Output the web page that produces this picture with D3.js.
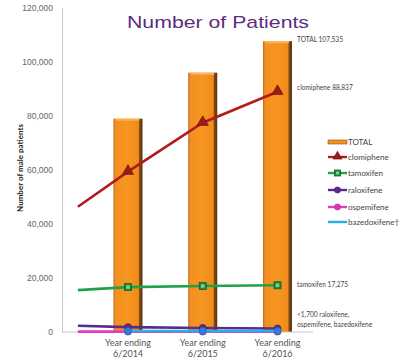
<!DOCTYPE html>
<html><head><meta charset="utf-8">
<script src="https://cdn.jsdelivr.net/npm/d3@7"></script>
<style>
body{margin:0;background:#fff;}
svg{display:block;}
text{font-family:Lato,"Liberation Sans",sans-serif;}
</style></head>
<body><svg id="c" width="401" height="362"></svg>
<script>
// ---- data ----
const categories = ["Year ending|6/2014", "Year ending|6/2015", "Year ending|6/2016"];
const totalValues = [78900, 95900, 107535];
// each line series: value at an unlabeled earlier start point, then the three years
const lineStartIndex = -0.67;
const clomiphene = [46300, 59300, 77400, 88837];
const tamoxifen = [15500, 16600, 17000, 17275];
const raloxifene = [2300, 1800, 1500, 1300];
const ospemifene = [150, 150, 150, 150];
const bazedoxifene = [null, 350, 350, 350];
const yTicks = [0, 20000, 40000, 60000, 80000, 100000, 120000];
const annotations = [
  {text:["TOTAL 107,535"], value:107535},
  {text:["clomiphene 88,837"], value:88837},
  {text:["tamoxifen 17,275"], value:17275},
  {text:["<1,700 raloxifene,", "ospemifene, bazedoxifene"], value:1700}
];
const legendItems = ["TOTAL","clomiphene","tamoxifen","raloxifene","ospemifene","bazedoxifene†"];

// ---- layout ----
const svg = d3.select("#c");
const x = d3.scaleLinear().domain([-0.883, 2.475]).range([62, 313]);
const y = d3.scaleLinear().domain([0, 120000]).range([332, 7.5]);
const barW = 29;

const defs = svg.append("defs");
const g = defs.append("linearGradient").attr("id","barGrad").attr("x1","0").attr("x2","1").attr("y1","0").attr("y2","0");
[[0,"#b8661a"],[0.07,"#f48f22"],[0.5,"#f6961f"],[0.86,"#f08b1c"],[0.9,"#7a4a16"],[1,"#5a3410"]]
  .forEach(([o,c])=>g.append("stop").attr("offset",o).attr("stop-color",c));

// title
svg.append("text").attr("x",127).attr("y",28).attr("textLength",182).attr("lengthAdjust","spacingAndGlyphs")
  .attr("font-family","Liberation Sans, Arial, sans-serif").style("font-family","'Liberation Sans',Arial,sans-serif")
  .attr("font-size",17).attr("fill","#5b2d7d").text("Number of Patients");

// axes
const yAxis = d3.axisLeft(y).tickValues(yTicks).tickFormat(d3.format(",")).tickSize(0).tickPadding(9);
const ya = svg.append("g").attr("transform","translate(62,0)").call(yAxis);
ya.select(".domain").attr("stroke","#c8c8c8");
ya.selectAll("text").attr("font-size",8.5).attr("fill","#666").style("font-family","'Liberation Sans',Arial,sans-serif");

svg.append("text").attr("transform","translate(23,168) rotate(-90)").attr("text-anchor","middle")
  .attr("font-size",8).attr("font-weight","bold").attr("fill","#222").text("Number of male patients");

// bars
svg.selectAll("rect.bar").data(totalValues).join("rect").attr("class","bar")
  .attr("x",(d,i)=>x(i)-barW/2).attr("y",d=>y(d)).attr("width",barW).attr("height",d=>y(0)-y(d))
  .attr("fill","url(#barGrad)");
svg.selectAll("rect.bartop").data(totalValues).join("rect").attr("class","bartop")
  .attr("x",(d,i)=>x(i)-barW/2+2).attr("y",d=>y(d)).attr("width",barW-5).attr("height",2)
  .attr("fill","#fbb45a");

// x axis line
svg.append("line").attr("x1",62).attr("x2",313).attr("y1",y(0)).attr("y2",y(0)).attr("stroke","#c8c8c8");

// x labels
categories.forEach((c,i)=>{
  const t = svg.append("text").attr("x",x(i)).attr("y",346).attr("text-anchor","middle")
    .attr("font-size",9).attr("fill","#555");
  c.split("|").forEach((s,k)=>t.append("tspan").attr("x",x(i)).attr("dy",k?11:0).text(s));
});

// lines
const series = [
  {name:"ospemifene", vals:ospemifene, color:"#e23dc4", marker:"circle", mcolor:"#d83ac0"},
  {name:"raloxifene", vals:raloxifene, color:"#5a2a8c", marker:"circle", mcolor:"#5a2a8c"},
  {name:"bazedoxifene", vals:bazedoxifene, color:"#27aee6", marker:"circle", mcolor:"#2f7fe0"},
  {name:"tamoxifen", vals:tamoxifen, color:"#1fa24a", marker:"square", mcolor:"#1f8a3e"},
  {name:"clomiphene", vals:clomiphene, color:"#b31b1b", marker:"triangle", mcolor:"#a01818"}
];
const idx = v => v.map((d,i)=>({i: i===0 ? lineStartIndex : i-1, v:d}));
const line = d3.line().defined(d=>d.v!=null).x(d=>x(d.i)).y(d=>y(d.v));
function marker(sel, type, color, px, py, s){
  if(type==="circle") sel.append("circle").attr("cx",px).attr("cy",py).attr("r",s).attr("fill",color).attr("stroke",d3.color(color).darker(0.6)).attr("stroke-width",0.8);
  else if(type==="square"){ sel.append("rect").attr("x",px-s).attr("y",py-s).attr("width",2*s).attr("height",2*s).attr("fill",color).attr("stroke","#145f2a").attr("stroke-width",0.8);
    sel.append("rect").attr("x",px-s/2).attr("y",py-s/2).attr("width",s).attr("height",s).attr("fill","#7fcf8f"); }
  else sel.append("path").attr("d",d3.symbol(d3.symbolTriangle, s*s*2.2)()).attr("transform",`translate(${px},${py-0.5})`).attr("fill",color).attr("stroke","#6b0e0e").attr("stroke-width",0.6);
}
series.forEach(s=>{
  const pts = idx(s.vals);
  svg.append("path").datum(pts).attr("d",line).attr("fill","none").attr("stroke",s.color).attr("stroke-width",2.6);
  const mg = svg.append("g");
  pts.filter(p=>p.i>=0 && p.v!=null).forEach(p=>marker(mg, s.marker, s.mcolor, x(p.i), y(p.v), s.marker==="triangle"?5:3.5));
});

// annotations
const annY = [42, 90, 287, 317];
annotations.forEach((a,k)=>{
  const t = svg.append("text").attr("x",297).attr("y",annY[k]).attr("font-size",6.6).attr("fill","#444");
  a.text.forEach((s,j)=>t.append("tspan").attr("x",297).attr("dy",j?10:0).text(s));
});

// legend
const legY = [142, 157, 173, 190, 207, 222];
const lg = svg.append("g");
legendItems.forEach((name,k)=>{
  const yy = legY[k];
  if(k===0){
    lg.append("rect").attr("x",328).attr("y",yy-2).attr("width",19).attr("height",4).attr("fill","#f39020").attr("stroke","#8a5418").attr("stroke-width",0.6);
  } else {
    const s = series.find(s=>name.startsWith(s.name));
    lg.append("line").attr("x1",328).attr("x2",347).attr("y1",yy).attr("y2",yy).attr("stroke",s.color).attr("stroke-width",2.4);
    if(s.name!=="bazedoxifene") marker(lg, s.marker, s.mcolor, 337.5, yy, s.marker==="triangle"?4:3);
  }
  lg.append("text").attr("x",348).attr("y",yy+3).attr("font-size",8).attr("fill","#444").text(name);
});
</script></body></html>
